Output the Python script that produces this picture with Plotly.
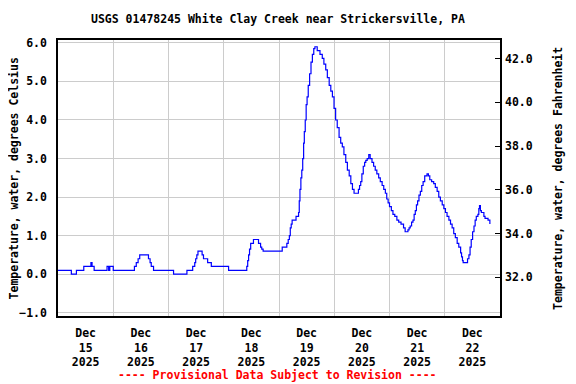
import pandas as pd
import plotly.graph_objects as go

# ---- data (hours since 2025-12-15 00:00, water temperature in deg C) ----
start = "2025-12-15 00:00"
hours = [0, 5.8, 8, 11.2, 14.3, 14.8, 15.7, 21.3, 22.0, 22.5, 24.0, 33.2, 34.0, 34.8, 35.5,
         39.3, 40.0, 40.5, 41.5, 50.2, 56.0, 58.5, 59.4, 59.8, 60.3, 60.8, 62.6, 63.2, 64.0,
         65.0, 66.6, 74.1, 82.0, 82.4, 82.8, 83.2, 83.7, 84.9, 87.1, 88.0, 88.5, 89.1, 97.4,
         99.4, 100.0, 100.5, 100.9, 101.3, 101.7, 103.4, 104.5, 104.8, 105.1, 105.5, 105.9,
         106.3, 106.7, 107.0, 107.4, 107.8, 108.2, 108.7, 109.3, 109.9, 110.5, 111.1, 111.6,
         112.6, 113.8, 114.8, 115.5, 116.3, 117.0, 117.8, 118.5, 119.2, 119.9, 120.6, 121.3,
         122.1, 122.8, 123.5, 124.2, 125.0, 125.7, 126.5, 127.2, 127.9, 128.6, 130.5, 131.0,
         131.5, 132.0, 132.6, 133.2, 133.7, 134.3, 135.0, 135.6, 136.4, 137.1, 137.8, 138.5,
         139.3, 140.0, 140.8, 141.5, 142.2, 142.8, 143.4, 144.0, 144.8, 145.5, 146.3, 147.2,
         148.0, 149.0, 150.1, 150.8, 152.0, 152.5, 153.0, 153.6, 154.2, 154.7, 155.2, 155.7,
         156.2, 156.8, 157.4, 158.0, 158.6, 159.3, 160.3, 160.9, 161.5, 162.3, 163.2, 163.9,
         164.7, 165.4, 166.1, 166.9, 167.6, 168.3, 169.0, 169.8, 170.5, 171.2, 171.9, 172.6,
         173.4, 174.1, 174.9, 175.3, 175.7, 176.0, 177.5, 177.9, 178.5, 179.0, 179.5, 180.1,
         180.7, 181.2, 181.7, 182.4, 182.8, 183.1, 183.5, 183.9, 185.0, 185.5, 186.8, 187.6]
temp_c = [0.1, 0.0, 0.1, 0.2, 0.3, 0.2, 0.1, 0.2, 0.1, 0.2, 0.1, 0.2, 0.3, 0.4, 0.5,
          0.4, 0.3, 0.2, 0.1, 0.0, 0.1, 0.2, 0.3, 0.4, 0.5, 0.6, 0.5, 0.4, 0.4,
          0.3, 0.2, 0.1, 0.2, 0.35, 0.5, 0.65, 0.8, 0.9, 0.8, 0.7, 0.65, 0.6, 0.7,
          0.8, 0.9, 1.0, 1.2, 1.3, 1.4, 1.5, 1.6, 1.9, 2.2, 2.5, 2.7,
          3.0, 3.4, 3.7, 4.0, 4.4, 4.6, 4.9, 5.2, 5.5, 5.7, 5.85, 5.9,
          5.8, 5.7, 5.6, 5.45, 5.3, 5.1, 4.9, 4.75, 4.6, 4.3, 4.0, 3.8,
          3.55, 3.4, 3.3, 3.1, 2.9, 2.7, 2.55, 2.35, 2.2, 2.1, 2.2, 2.3,
          2.4, 2.6, 2.8, 2.9, 2.95, 3.0, 3.1, 3.0, 2.9, 2.8, 2.7, 2.6,
          2.5, 2.4, 2.3, 2.2, 2.1, 1.95, 1.85, 1.75, 1.65, 1.55, 1.5, 1.4,
          1.35, 1.3, 1.2, 1.1, 1.15, 1.2, 1.25, 1.35, 1.4, 1.55, 1.65, 1.8,
          1.9, 2.05, 2.15, 2.3, 2.4, 2.55, 2.6, 2.55, 2.45, 2.4, 2.35, 2.25,
          2.15, 2.0, 1.9, 1.8, 1.7, 1.6, 1.5, 1.4, 1.3, 1.2, 1.05, 0.95,
          0.8, 0.7, 0.55, 0.45, 0.35, 0.3, 0.3, 0.4, 0.5, 0.7, 0.9, 1.1,
          1.25, 1.4, 1.5, 1.55, 1.7, 1.78, 1.65, 1.6, 1.5, 1.45, 1.4, 1.3]

title_text = "USGS 01478245 White Clay Creek near Strickersville, PA"
left_title = "Temperature, water, degrees Celsius"
right_title = "Temperature, water, degrees Fahrenheit"
footer_text = "---- Provisional Data Subject to Revision ----"
c_ticks = [-1.0, 0.0, 1.0, 2.0, 3.0, 4.0, 5.0, 6.0]
f_ticks = [32.0, 34.0, 36.0, 38.0, 40.0, 42.0]

times = pd.Timestamp(start) + pd.to_timedelta(hours, unit="h")
temp_f = [c * 1.8 + 32 for c in temp_c]

FONT = "DejaVu Sans Mono"
fnt = dict(family=FONT, size=11.5, color="black", weight="bold")

fig = go.Figure()
fig.add_trace(go.Scatter(x=times, y=temp_c, mode="lines", line=dict(color="#0000FF", width=1.2, shape="hv"),
                         showlegend=False, hoverinfo="skip"))
fig.add_trace(go.Scatter(x=times, y=temp_f, mode="lines", line=dict(color="rgba(0,0,0,0)", width=0),
                         yaxis="y2", showlegend=False, hoverinfo="skip"))

# the page body adds an 8px offset; margins compensate so the plot lands at 58..500 x 40..316
fig.update_layout(
    width=576, height=384,
    margin=dict(l=50, r=84, t=32, b=76, autoexpand=False),
    paper_bgcolor="white", plot_bgcolor="white",
    font=fnt,
    xaxis=dict(type="date", range=["2025-12-15", "2025-12-23"], dtick=86400000, tick0="2025-12-15",
               ticklabelmode="period", tickformat="%b<br>%d<br>%Y", showgrid=True, gridcolor="#CCCCCC",
               gridwidth=1, showline=True, linecolor="black", linewidth=1.5, mirror=True, ticks="",
               ticklabelstandoff=5, tickfont=fnt, zeroline=False),
    yaxis=dict(range=[-1.085, 6.075], tickvals=c_ticks, tickformat=".1f", showgrid=True,
               gridcolor="#CCCCCC", gridwidth=1, showline=True, linecolor="black", linewidth=1.5,
               mirror=True, ticks="", ticklabelstandoff=7, tickfont=fnt, zeroline=False),
    yaxis2=dict(overlaying="y", side="right", range=[30.225, 42.853], tickvals=f_ticks, tickformat=".1f",
                showgrid=False, ticks="inside", ticklen=5, tickcolor="black", tickfont=fnt,
                ticklabelstandoff=4, zeroline=False, showline=False),
    annotations=[
        dict(text=title_text, xref="paper", yref="paper", x=0.497, y=1.076, showarrow=False,
             xanchor="center", yanchor="middle", font=fnt),
        dict(text=footer_text, xref="paper", yref="paper", x=0.497, y=-0.214, showarrow=False,
             xanchor="center", yanchor="middle", font=dict(family=FONT, size=11.5, color="#FF0000", weight="bold")),
        dict(text=left_title, xref="paper", yref="paper", x=-0.0985, y=0.5, textangle=-90, showarrow=False,
             xanchor="center", yanchor="middle", font=fnt),
        dict(text=right_title, xref="paper", yref="paper", x=1.131, y=0.5, textangle=-90, showarrow=False,
             xanchor="center", yanchor="middle", font=fnt),
    ],
)

fig.write_html("out.html")
